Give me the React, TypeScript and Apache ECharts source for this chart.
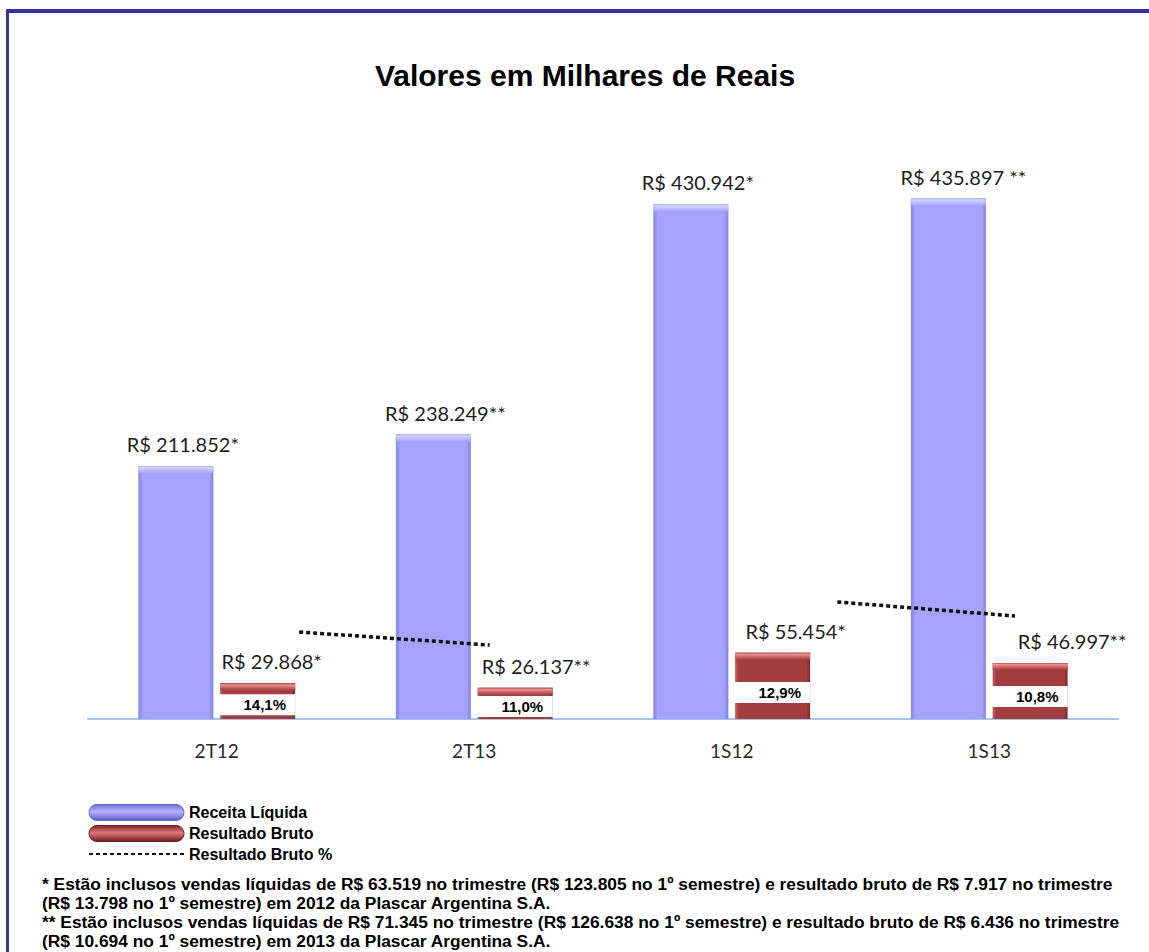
import React, { useEffect, useRef } from "react";
import * as echarts from "echarts";

const categories = ["2T12", "2T13", "1S12", "1S13"];
const netRevenue = [211852, 238249, 430942, 435897];
const grossProfit = [29868, 26137, 55454, 46997];
const grossMarginPct = [14.1, 11.0, 12.9, 10.8];
const revenueNotes = ["*", "**", "*", " **"];
const grossNotes = ["*", "**", "*", "**"];
const footnotes = [
  "* Estão inclusos vendas líquidas de R$ 63.519 no trimestre (R$ 123.805 no 1º semestre) e resultado bruto de R$ 7.917 no trimestre",
  "(R$ 13.798 no 1º semestre) em 2012 da Plascar Argentina S.A.",
  "** Estão inclusos vendas líquidas de R$ 71.345 no trimestre (R$ 126.638 no 1º semestre) e resultado bruto de R$ 6.436 no trimestre",
  "(R$ 10.694 no 1º semestre) em 2013 da Plascar Argentina S.A.",
];

// layout-only constants
const blueLabelShift = [7, 12, 7, 15];
const redLabelShift = [14, 21, 23, 42];
const lineStartShift = [0.32, 0.41];
const lineEndShift = [0.06, 0.1];

const fmt = (v: number) => String(v).replace(/\B(?=(\d{3})+(?!\d))/g, ".");
const fmtPct = (p: number) => p.toFixed(1).replace(".", ",") + "%";

export default function App() {
  const ref = useRef<HTMLDivElement>(null);
  useEffect(() => {
    if (!ref.current) return;
    const chart = echarts.init(ref.current, undefined, { renderer: "svg" });
    const blueFill = {
      type: "linear", x: 0, y: 0, x2: 1, y2: 0,
      colorStops: [
        { offset: 0, color: "#8282e2" },
        { offset: 0.06, color: "#a4a4fd" },
        { offset: 0.94, color: "#a4a4fd" },
        { offset: 1, color: "#8282e2" },
      ],
    };
    const redFill = {
      type: "linear", x: 0, y: 0, x2: 1, y2: 0,
      colorStops: [
        { offset: 0, color: "#c06060" },
        { offset: 0.05, color: "#a33c3c" },
        { offset: 0.95, color: "#a33c3c" },
        { offset: 1, color: "#7e2a2a" },
      ],
    };
    const bluePill = {
      type: "linear", x: 0, y: 0, x2: 0, y2: 1,
      colorStops: [
        { offset: 0, color: "#6c6cd6" },
        { offset: 0.45, color: "#b4b4ff" },
        { offset: 1, color: "#5a5ac4" },
      ],
    };
    const redPill = {
      type: "linear", x: 0, y: 0, x2: 0, y2: 1,
      colorStops: [
        { offset: 0, color: "#7a2424" },
        { offset: 0.45, color: "#e07a7a" },
        { offset: 1, color: "#6e1e1e" },
      ],
    };
    const pill = "path://M8 0H87A8 8 0 0 1 87 16H8A8 8 0 0 1 8 0Z";

    const seg1 = [
      [0.5 + lineStartShift[0], grossMarginPct[0]],
      [1.5 + lineEndShift[0], grossMarginPct[1]],
    ];
    const seg2 = [
      [2.5 + lineStartShift[1], grossMarginPct[2]],
      [3.5 + lineEndShift[1], grossMarginPct[3]],
    ];

    const lineStyle = { color: "#111", width: 3.5, type: [4, 3] as any };

    const bevel = (x: number, y: number, top: string, mid: string) => ({
      type: "rect",
      shape: { x, y, width: 75, height: 7 },
      style: {
        fill: {
          type: "linear", x: 0, y: 0, x2: 0, y2: 1,
          colorStops: [
            { offset: 0, color: mid },
            { offset: 0.2, color: top },
            { offset: 1, color: mid },
          ],
        },
      },
    });

    chart.setOption({
      animation: false,
      grid: { left: 88, right: 31, top: 122, bottom: 233 },
      xAxis: [
        {
          type: "category",
          data: categories,
          axisLine: { lineStyle: { color: "#a9c3ea", width: 2 } },
          axisTick: { show: false },
          axisLabel: { fontFamily: "Lato", fontSize: 19, color: "#2a2a2a", margin: 22 },
        },
        { type: "value", min: 0, max: 4, show: false },
      ],
      yAxis: [
        { type: "value", min: 0, max: 500000, show: false },
        { type: "value", min: -6.66, max: 135.8, show: false },
        { type: "value", min: -4.65, max: 84.9, show: false },
      ],
      legend: {
        orient: "vertical",
        left: 88,
        top: 804,
        padding: 0,
        itemWidth: 95,
        itemHeight: 17,
        itemGap: 4,
        textStyle: { fontFamily: "Liberation Sans", fontWeight: "bold", fontSize: 16, color: "#000" },
        data: [
          { name: "Receita Líquida", icon: pill, itemStyle: { color: bluePill, borderColor: "#6464c8", borderWidth: 1 } },
          { name: "Resultado Bruto", icon: pill, itemStyle: { color: redPill, borderColor: "#6a1c1c", borderWidth: 1 } },
          { name: "Resultado Bruto %", itemStyle: { opacity: 0 } },
        ],
      },
      graphic: [
        { type: "rect", shape: { x: 6, y: 9, width: 1143, height: 4 }, style: { fill: "#35359d" } },
        { type: "rect", shape: { x: 6, y: 9, width: 3, height: 943 }, style: { fill: "#35359d" } },
        {
          type: "text",
          x: 585,
          y: 75,
          style: {
            text: "Valores em Milhares de Reais",
            font: 'bold 30px "Liberation Sans"',
            fill: "#000",
            align: "center",
            verticalAlign: "middle",
          },
        },
        ...footnotes.map((t, i) => ({
          type: "text",
          x: 42,
          y: 884 + i * 19,
          scaleX: 1.022,
          style: {
            text: t,
            font: 'bold 17px "Liberation Sans"',
            fill: "#000",
            align: "left",
            verticalAlign: "middle",
          },
        })),
      ],
      series: [
        {
          name: "Receita Líquida",
          type: "bar",
          barWidth: 75,
          barGap: "9%",
          data: netRevenue.map((v, i) => ({
            value: v,
            label: { offset: [blueLabelShift[i], 0] },
          })),
          itemStyle: { color: blueFill },
          label: {
            show: true,
            position: "top",
            distance: 12,
            fontFamily: "Lato",
            fontSize: 20,
            color: "#1e1e1e",
            formatter: (p: any) => `R$ ${fmt(p.value)}${revenueNotes[p.dataIndex]}`,
          },
        },
        {
          name: "Resultado Bruto",
          type: "bar",
          barWidth: 75,
          barGap: "9%",
          data: grossProfit.map((v, i) => ({
            value: v,
            label: { offset: [redLabelShift[i], 0] },
          })),
          itemStyle: { color: redFill },
          label: {
            show: true,
            position: "top",
            distance: 12,
            fontFamily: "Lato",
            fontSize: 20,
            color: "#1e1e1e",
            formatter: (p: any) => `R$ ${fmt(p.value)}${grossNotes[p.dataIndex]}`,
          },
        },
        {
          type: "custom",
          xAxisIndex: 0,
          yAxisIndex: 0,
          z: 5,
          silent: true,
          data: grossMarginPct.map((p, i) => [i, p, grossProfit[i], netRevenue[i]]),
          encode: { x: 0, y: 2 },
          renderItem: (_params: any, api: any) => {
            const i = api.value(0);
            const pct = api.value(1);
            const red = api.value(2);
            const blue = api.value(3);
            const base = api.coord([i, 0]);
            const mid = api.coord([i, red * 0.4]);
            const redTop = api.coord([i, red]);
            const blueTop = api.coord([i, blue]);
            const cx = base[0] + 41;
            const bx = base[0] - 41;
            return {
              type: "group",
              children: [
                bevel(bx - 37.5, blueTop[1], "#d4d4ff", "#a4a4fd"),
                bevel(cx - 37.5, redTop[1], "#ef9292", "#a33c3c"),
                {
                  type: "rect",
                  shape: { x: cx - 41.5, y: mid[1] - 10.5, width: 79, height: 21 },
                  style: { fill: "#ffffff" },
                },
                {
                  type: "text",
                  style: {
                    text: fmtPct(pct),
                    x: cx + 7,
                    y: mid[1],
                    align: "center",
                    verticalAlign: "middle",
                    font: 'bold 15px "Liberation Sans"',
                    fill: "#000",
                  },
                },
              ],
            };
          },
        },
        {
          name: "Resultado Bruto %",
          type: "line",
          xAxisIndex: 1,
          yAxisIndex: 1,
          symbol: "none",
          z: 6,
          data: seg1,
          lineStyle,
          itemStyle: { color: "#111" },
        },
        {
          name: "Resultado Bruto %",
          type: "line",
          xAxisIndex: 1,
          yAxisIndex: 2,
          symbol: "none",
          z: 6,
          data: seg2,
          lineStyle,
          itemStyle: { color: "#111" },
        },
      ],
    });
    return () => chart.dispose();
  }, []);
  return (
    <div
      ref={ref}
      style={{ position: "absolute", left: 0, top: 0, width: 1149, height: 952, background: "#fff" }}
    />
  );
}
